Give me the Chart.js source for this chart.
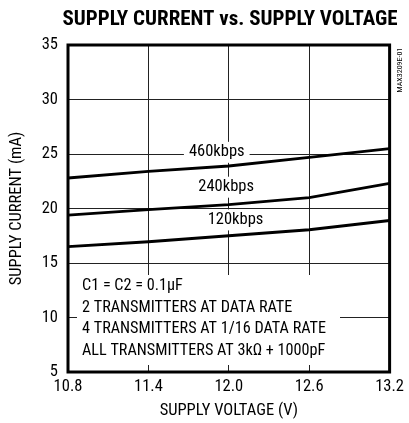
<!DOCTYPE html>
<html>
<head>
<meta charset="utf-8">
<script src="https://cdn.jsdelivr.net/npm/chart.js@4.4.1/dist/chart.umd.min.js"></script>
<style>
  html, body { margin: 0; padding: 0; background: #fff; }
  #wrap { width: 409px; height: 423px; position: relative; }
  canvas { display: block; }
</style>
</head>
<body>
<div id="wrap"><canvas id="c" width="409" height="423"></canvas></div>
<script>
// ---- data ----
const titleText = 'SUPPLY CURRENT vs. SUPPLY VOLTAGE';
const xAxisTitle = 'SUPPLY VOLTAGE (V)';
const yAxisTitle = 'SUPPLY CURRENT (mA)';
const partLabel = 'MAX3209E-01';
const xTicks = [10.8, 11.4, 12.0, 12.6, 13.2];
const yTicks = [5, 10, 15, 20, 25, 30, 35];
const voltages = [10.8, 11.4, 12.0, 12.6, 13.2];
const current460 = [22.8, 23.4, 23.9, 24.7, 25.5];
const current240 = [19.4, 19.9, 20.35, 21.0, 22.3];
const current120 = [16.5, 16.95, 17.5, 18.05, 18.9];
const seriesNames = ['460kbps', '240kbps', '120kbps'];
const seriesLabelAt = [[11.91, 25.2], [11.98, 22.0], [12.05, 19.0]];
const noteLines = [
  'C1 = C2 = 0.1\u00B5F',
  '2 TRANSMITTERS AT DATA RATE',
  '4 TRANSMITTERS AT 1/16 DATA RATE',
  'ALL TRANSMITTERS AT 3k\u03A9 + 1000pF'
];

const FONT = "'Liberation Sans Narrow', 'Roboto Condensed', 'Arial Narrow', 'Liberation Sans', sans-serif";

function toPts(xs, ys) { return xs.map((x, i) => ({ x: x, y: ys[i] })); }

const decor = {
  id: 'decor',
  beforeDatasetsDraw(chart) {
    const ctx = chart.ctx, a = chart.chartArea;
    const xs = chart.scales.x, ys = chart.scales.y;
    ctx.save();
    ctx.fillStyle = '#fff';
    ctx.font = '16.5px ' + FONT;
    seriesNames.forEach((n, i) => {
      const px = xs.getPixelForValue(seriesLabelAt[i][0]);
      const py = ys.getPixelForValue(seriesLabelAt[i][1]);
      const w = ctx.measureText(n).width + 10;
      ctx.fillRect(px - w / 2, py - 10, w, 21);
    });
    ctx.fillRect(a.left + 9, a.top + 230, 263, 90);
    ctx.restore();
  },
  afterDatasetsDraw(chart) {
    const ctx = chart.ctx, a = chart.chartArea;
    const xs = chart.scales.x, ys = chart.scales.y;
    ctx.save();
    ctx.fillStyle = '#000';
    ctx.textAlign = 'center';
    ctx.textBaseline = 'middle';
    ctx.font = '16.5px ' + FONT;
    seriesNames.forEach((n, i) => {
      ctx.fillText(n, xs.getPixelForValue(seriesLabelAt[i][0]), ys.getPixelForValue(seriesLabelAt[i][1]));
    });
    ctx.textAlign = 'left';
    ctx.font = '16.2px ' + FONT;
    noteLines.forEach((t, i) => {
      ctx.fillText(t, a.left + 14, a.top + 241 + i * 21.7);
    });
    ctx.lineWidth = 3;
    ctx.strokeStyle = '#000';
    ctx.strokeRect(a.left, a.top, a.right - a.left, a.bottom - a.top);
    ctx.restore();
  },
  afterDraw(chart) {
    const ctx = chart.ctx, a = chart.chartArea;
    ctx.save();
    ctx.fillStyle = '#000';
    ctx.textAlign = 'center';
    ctx.textBaseline = 'middle';
    ctx.font = 'bold 21px ' + FONT;
    ctx.fillText(titleText, 230, 20);
    ctx.font = '16.5px ' + FONT;
    ctx.fillText(xAxisTitle, (a.left + a.right) / 2, 411);
    ctx.save();
    ctx.translate(17, (a.top + a.bottom) / 2);
    ctx.rotate(-Math.PI / 2);
    ctx.fillText(yAxisTitle, 0, 0);
    ctx.restore();
    ctx.save();
    ctx.translate(400, a.top + 25);
    ctx.rotate(-Math.PI / 2);
    ctx.font = '8px ' + FONT;
    ctx.fillText(partLabel, 0, 0);
    ctx.restore();
    ctx.restore();
  }
};

const lineStyle = { borderColor: '#000', borderWidth: 2.8, pointRadius: 0, fill: false, tension: 0 };

new Chart(document.getElementById('c'), {
  type: 'line',
  data: {
    datasets: [
      Object.assign({ label: seriesNames[0], data: toPts(voltages, current460) }, lineStyle),
      Object.assign({ label: seriesNames[1], data: toPts(voltages, current240) }, lineStyle),
      Object.assign({ label: seriesNames[2], data: toPts(voltages, current120) }, lineStyle)
    ]
  },
  options: {
    responsive: false,
    animation: false,
    devicePixelRatio: 1,
    layout: { padding: { left: 0, right: 17, top: 45, bottom: 0 } },
    plugins: { legend: { display: false }, tooltip: { enabled: false }, title: { display: false } },
    scales: {
      x: {
        type: 'linear', min: 10.8, max: 13.2,
        afterBuildTicks(s) { s.ticks = xTicks.map(v => ({ value: v })); },
        afterFit(s) { s.height = 51; },
        grid: { color: '#222', lineWidth: 1, drawTicks: false },
        border: { display: false },
        ticks: { color: '#000', font: { family: FONT, size: 16.5 }, padding: 5, maxRotation: 0,
          callback: v => v.toFixed(1) }
      },
      y: {
        type: 'linear', min: 5, max: 35,
        afterBuildTicks(s) { s.ticks = yTicks.map(v => ({ value: v })); },
        afterFit(s) { s.width = 68; },
        grid: { color: '#222', lineWidth: 1, drawTicks: false },
        border: { display: false },
        ticks: { color: '#000', font: { family: FONT, size: 16.5 }, padding: 10,
          callback: v => String(v) }
      }
    }
  },
  plugins: [decor]
});
</script>
</body>
</html>
